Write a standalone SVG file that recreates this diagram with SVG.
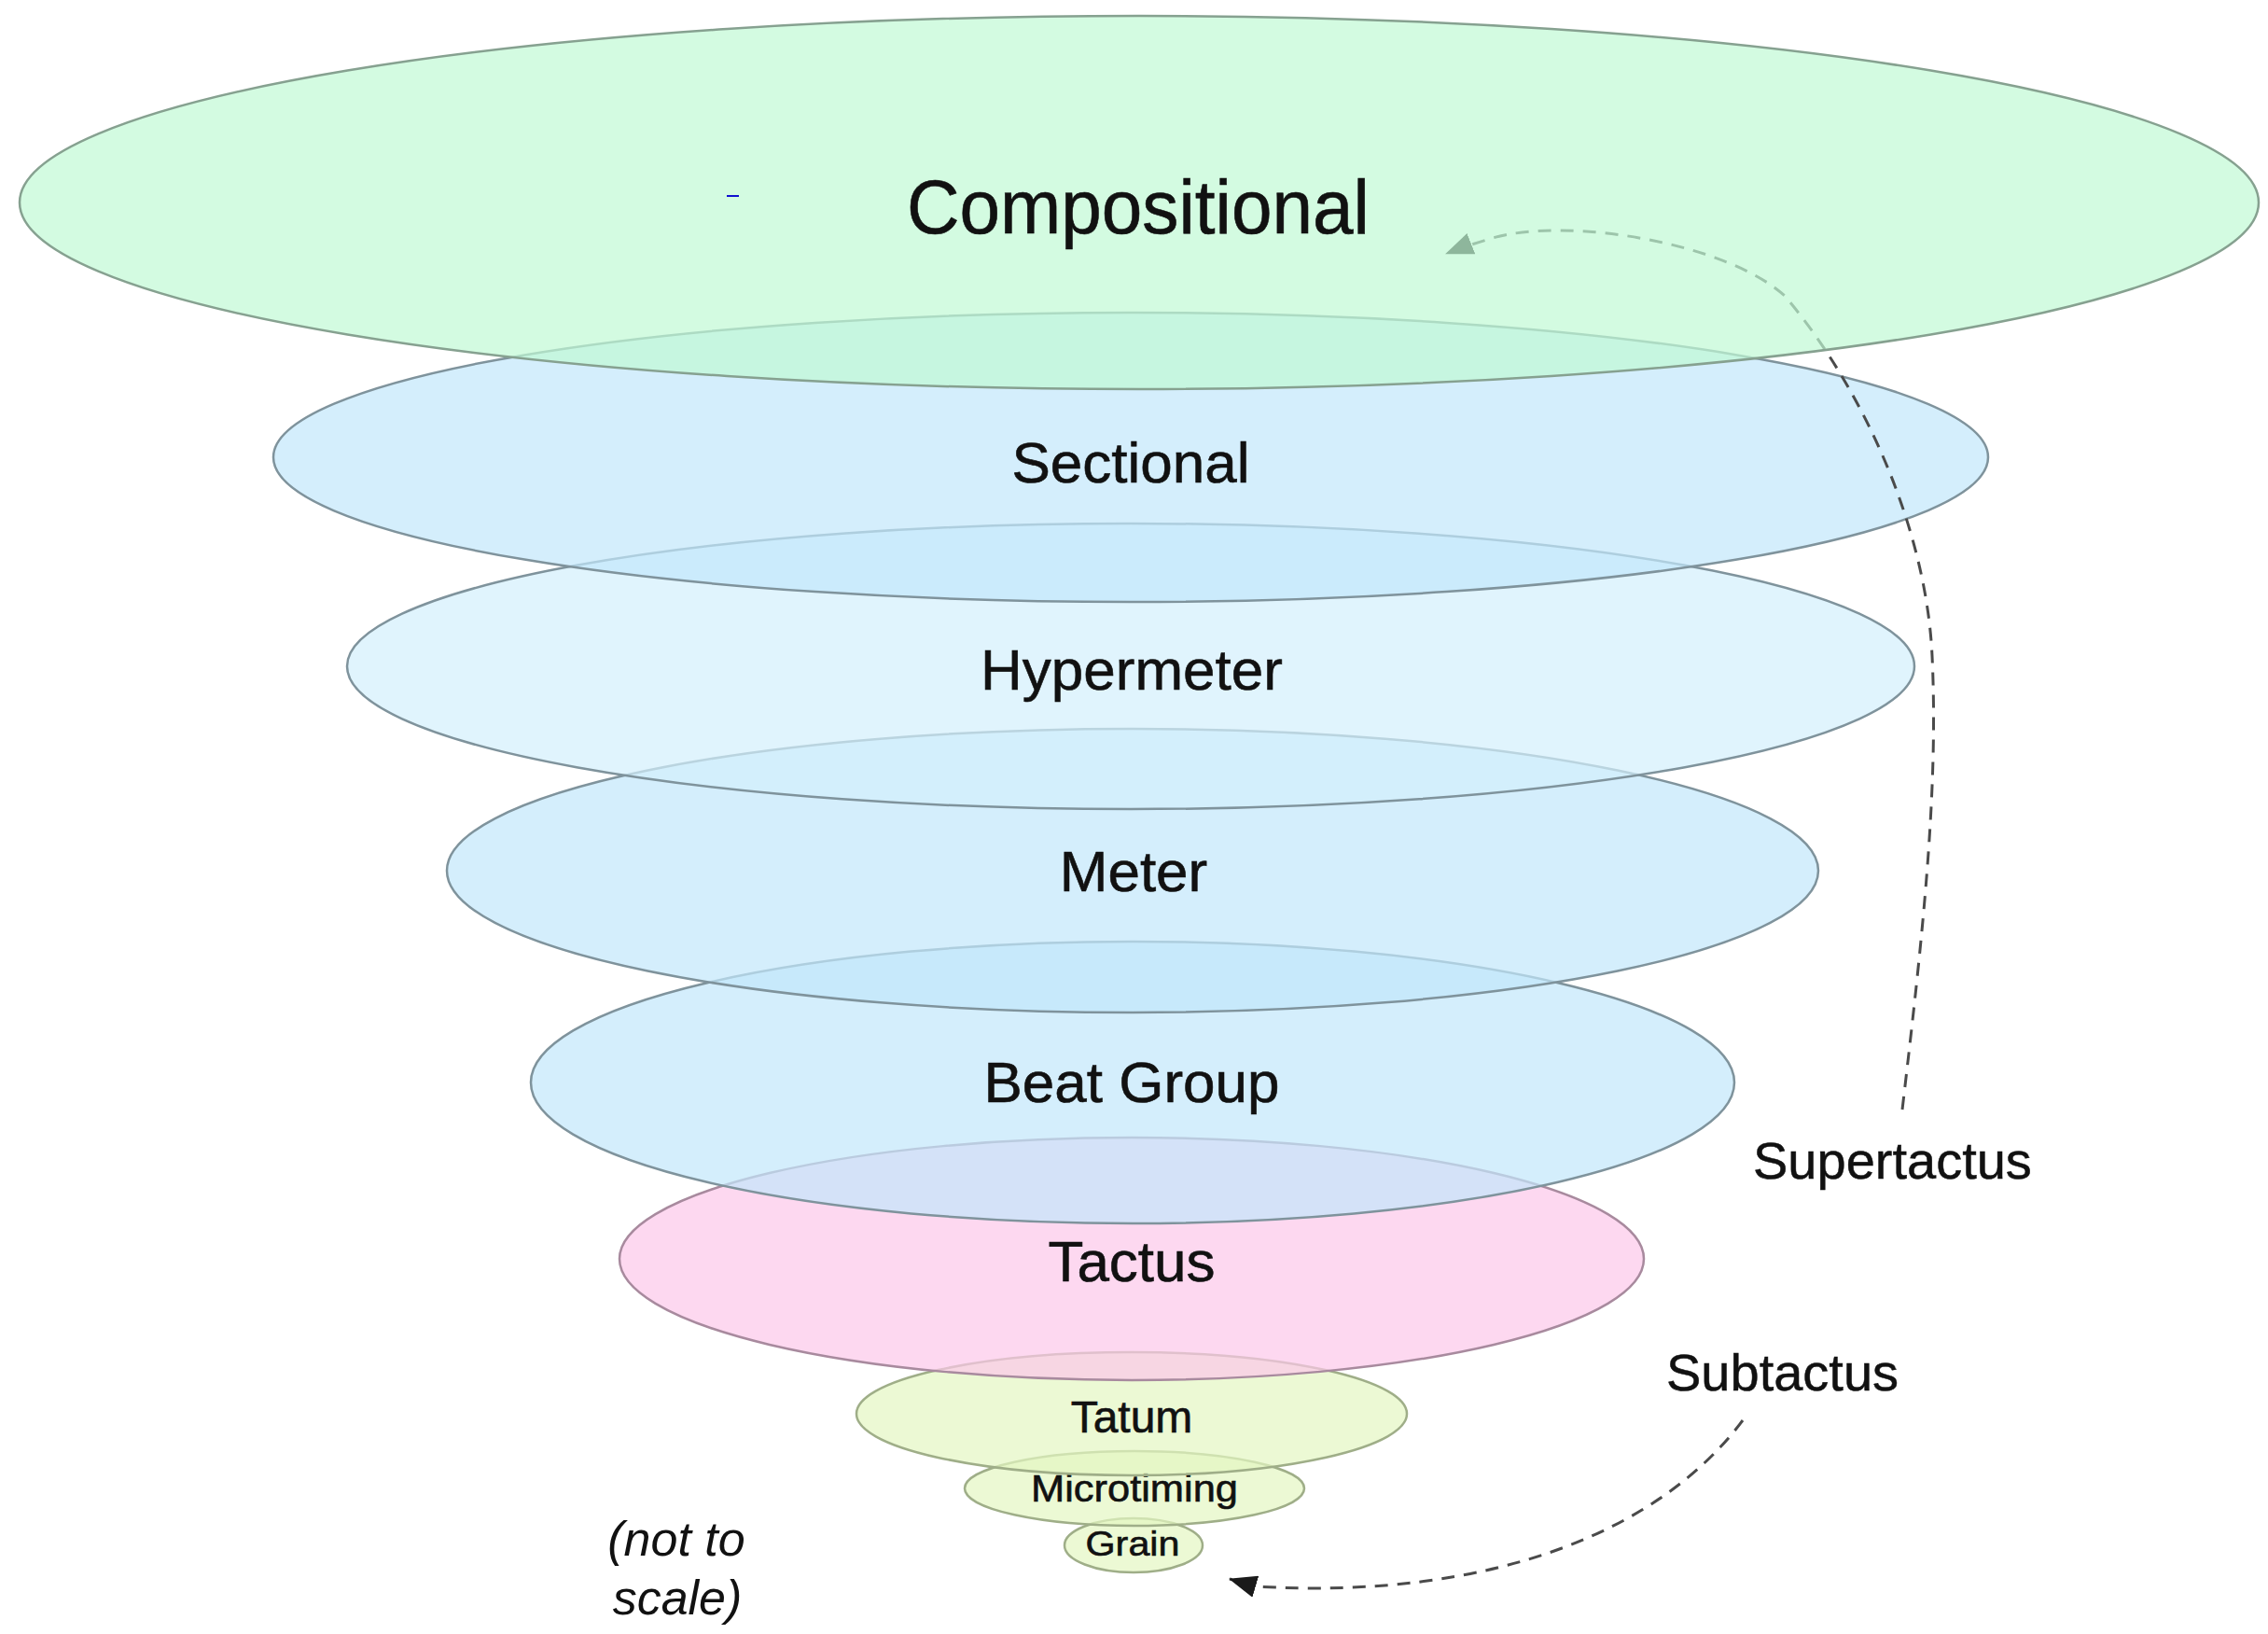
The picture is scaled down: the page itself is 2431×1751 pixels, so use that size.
<svg xmlns="http://www.w3.org/2000/svg" width="2431" height="1751" viewBox="0 0 2431 1751">
<style>
  .lbl { font-family: "Liberation Sans", Arial, sans-serif; fill: #111; text-anchor: middle; stroke: #111; stroke-width: 0.6; }
  .side { font-family: "Liberation Sans", Arial, sans-serif; fill: #111; font-size: 56px; stroke: #111; stroke-width: 0.5; }
  .note { font-family: "Liberation Sans", Arial, sans-serif; fill: #111; font-size: 52px; font-style: italic; text-anchor: middle; }
  .ell { stroke-width: 2.5; fill-opacity: 0.7; }
  .green { fill: #c0f9d4; stroke: #86a190; }
  .blue { fill: #c2e7fb; stroke: #7f939c; }
  .blue2 { fill: #d3effc; stroke: #7f939c; }
  .pink { fill: #fcc7ea; stroke: #a88a9e; }
  .lime { fill: #e4f7c2; stroke: #9fae88; }
  .dash { fill: none; stroke: #4a4a4a; stroke-width: 3; stroke-dasharray: 14 10; }
</style>
<defs>
  <marker id="arrow" viewBox="0 0 30 24" refX="29" refY="12" markerWidth="30" markerHeight="24" markerUnits="userSpaceOnUse" orient="auto">
    <path d="M0,0 L30,12 L0,24 Z" fill="#1a1a1a"/>
  </marker>
</defs>
<rect width="2431" height="1751" fill="#ffffff"/>

<g id="node-grain">
  <ellipse class="ell lime" cx="1215" cy="1656" rx="74" ry="29"/>
  <text class="lbl" x="1214" y="1667" font-size="37" textLength="101" lengthAdjust="spacingAndGlyphs">Grain</text>
</g>
<g id="node-microtiming">
  <ellipse class="ell lime" cx="1216" cy="1595" rx="182" ry="40"/>
  <text class="lbl" x="1216" y="1609" font-size="40" textLength="222" lengthAdjust="spacingAndGlyphs">Microtiming</text>
</g>
<g id="node-tatum">
  <ellipse class="ell lime" cx="1213" cy="1515" rx="295" ry="66"/>
  <text class="lbl" x="1213" y="1535" font-size="48">Tatum</text>
</g>
<g id="node-tactus">
  <ellipse class="ell pink" cx="1213" cy="1349" rx="549" ry="130"/>
  <text class="lbl" x="1213" y="1373" font-size="62">Tactus</text>
</g>
<g id="node-beat-group">
  <ellipse class="ell blue" cx="1214" cy="1160" rx="645" ry="151"/>
  <text class="lbl" x="1213" y="1181" font-size="62">Beat Group</text>
</g>
<g id="node-meter">
  <ellipse class="ell blue" cx="1214" cy="933" rx="735" ry="152"/>
  <text class="lbl" x="1215" y="955" font-size="62">Meter</text>
</g>
<g id="node-hypermeter">
  <ellipse class="ell blue2" cx="1212" cy="714" rx="840" ry="153"/>
  <text class="lbl" x="1213" y="739" font-size="62">Hypermeter</text>
</g>
<g id="node-sectional">
  <ellipse class="ell blue" cx="1212" cy="490" rx="919" ry="155"/>
  <text class="lbl" x="1212" y="517" font-size="62">Sectional</text>
</g>

<g id="connectors">
  <path class="dash" d="M2039,1189 C2060,1010 2078,850 2071,703 C2065,570 2000,420 1913,317 C1850,260 1680,232 1600,255 C1580,261 1565,266 1550,272" marker-end="url(#arrow)"/>
  <path class="dash" d="M1868,1522 C1780,1640 1600,1715 1345,1700 L1318,1692" marker-end="url(#arrow)"/>
  <text class="side" x="1879" y="1263">Supertactus</text>
  <text class="side" x="1786" y="1490">Subtactus</text>
</g>

<g id="node-compositional">
  <ellipse class="ell green" cx="1221" cy="217" rx="1200" ry="200"/>
  <text class="lbl" x="1220" y="250" font-size="81" textLength="496" lengthAdjust="spacingAndGlyphs">Compositional</text>
  <rect x="779" y="209" width="13" height="2" fill="#1010d0"/>
</g>

<g id="note">
  <text class="note" x="725" y="1667">(not to</text>
  <text class="note" x="726" y="1730">scale)</text>
</g>
</svg>
